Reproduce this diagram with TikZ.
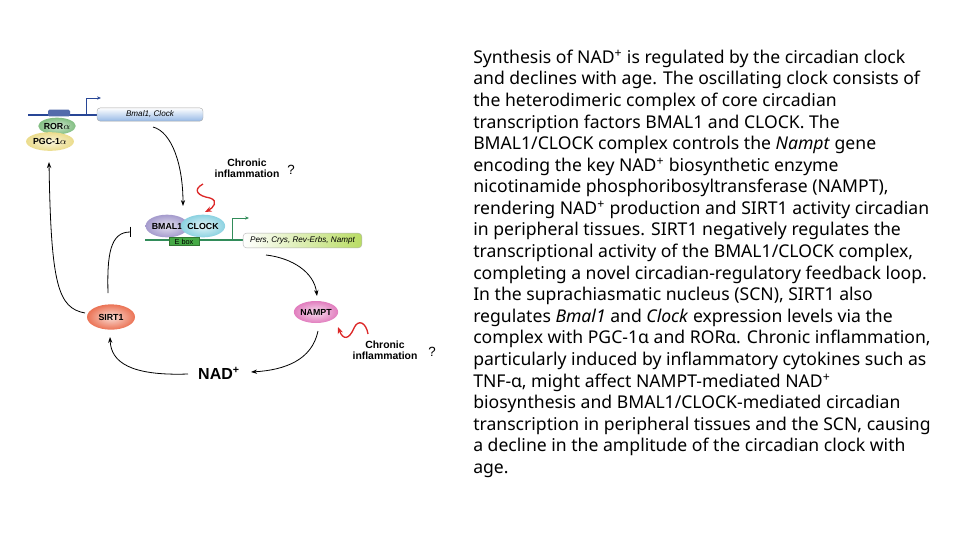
\documentclass[tikz,border=0pt]{standalone}
\usepackage{fontspec}
\setmainfont{Noto Sans}
\newfontfamily\lab{Liberation Sans}
\usetikzlibrary{arrows.meta,shapes.geometric}
\definecolor{dnablue}{RGB}{40,70,150}
\definecolor{dnagreen}{RGB}{50,140,90}
\definecolor{eboxc}{RGB}{70,170,70}
\definecolor{redsq}{RGB}{220,40,40}
\definecolor{rorc}{RGB}{130,190,130}
\definecolor{pgcc}{RGB}{235,220,140}
\definecolor{bmalc}{RGB}{165,155,205}
\definecolor{clockc}{RGB}{140,210,225}
\definecolor{sirtc}{RGB}{235,115,85}
\definecolor{namptc}{RGB}{225,125,190}
\definecolor{genebl}{RGB}{150,185,230}
\definecolor{genegr}{RGB}{185,220,100}
\begin{document}
\begin{tikzpicture}[x=0.75pt,y=-0.75pt,
  lbl/.style={font=\lab\bfseries\fontsize{6.6}{7}\selectfont, inner sep=0},
  infl/.style={font=\lab\bfseries\fontsize{7.8}{8.2}\selectfont, align=center, inner sep=0},
  qm/.style={font=\lab\fontsize{10}{10}\selectfont, inner sep=0},
  ell/.style={ellipse, inner sep=0, lbl},
  gene/.style={rounded corners=2.5pt, inner sep=0, draw=gray!70, line width=0.3pt, font=\lab\itshape\fontsize{6.1}{7}\selectfont},
  arr/.style={-{Stealth[length=4.5pt,width=3.2pt]}, line width=0.6pt, black},
  rarr/.style={-{Stealth[length=5pt,width=4pt]}, line width=1pt, redsq},
  txt/.style={anchor=base west, inner sep=0, font=\fontsize{13.2}{16}\selectfont}]
\useasboundingbox (0,0) rectangle (960,540);

% ---------- top DNA (blue) ----------
\coordinate (bl0) at (28,115);
\coordinate (bl1) at (97,115);
\draw[dnablue, line width=1.2pt] (bl0) -- (bl1);
\node[fill=dnablue!80, rounded corners=1pt, inner sep=0, minimum width=16.5pt, minimum height=5pt] (bbox) at (59,113) {};
\coordinate (bp0) at (86,115);
\coordinate (bp1) at (86,98);
\coordinate (bp2) at (101,98);
\draw[dnablue, line width=0.7pt, -{Stealth[length=3pt,width=2.5pt]}] (bp0) -- (bp1) -- (bp2);
\node[gene, top color=white, bottom color=genebl, minimum width=79.5pt, minimum height=10pt] (bgene) at (150,114.5) {Bmal1, Clock};

\node[ell, inner color=rorc!35!white, outer color=rorc, minimum width=19pt, minimum height=12.5pt] (ror) at (57,126) {ROR$\alpha$};
\node[ell, inner color=pgcc!30!white, outer color=pgcc, minimum width=25.5pt, minimum height=14pt] (pgc) at (50,141.5) {PGC-1$\alpha$};

% ---------- middle DNA (green) ----------
\coordinate (g0) at (145,240);
\coordinate (g1) at (243,240);
\draw[dnagreen, line width=1.3pt] (g0) -- (g1);
\coordinate (gp0) at (232,240);
\coordinate (gp1) at (232,218);
\coordinate (gp2) at (249,218);
\draw[dnagreen, line width=0.7pt, -{Stealth[length=3pt,width=2.5pt]}] (gp0) -- (gp1) -- (gp2);
\node[gene, draw=gray!60, left color=white, right color=genegr, minimum width=89pt, minimum height=11pt] (pgene) at (302.5,240.5) {Pers, Crys, Rev-Erbs, Nampt};

\node[ell, inner color=bmalc!30!white, outer color=bmalc, minimum width=29pt, minimum height=17pt] (bmal) at (167,226) {BMAL1};
\node[ell, inner color=clockc!25!white, outer color=clockc, minimum width=30pt, minimum height=17pt] (clock) at (203,226) {CLOCK};
\node[fill=eboxc, draw=eboxc!70!black, line width=0.2pt, inner sep=0, minimum width=23pt, minimum height=6pt, font=\lab\fontsize{5.5}{6}\selectfont] (ebox) at (184,241.5) {E box};

% ---------- other nodes ----------
\node[ell, inner color=sirtc!25!white, outer color=sirtc, minimum width=36pt, minimum height=19pt] (sirt) at (111,317) {SIRT1};
\node[ell, inner color=namptc!25!white, outer color=namptc, minimum width=31.5pt, minimum height=16.5pt] (nampt) at (316,312) {NAMPT};
\node[font=\lab\bfseries\fontsize{12}{12}\selectfont, inner sep=0] (nad) at (219,373) {NAD\textsuperscript{+}};

\node[infl] (inf1) at (247,168.5) {Chronic\\inflammation};
\node[qm] (q1) at (291,170) {?};
\node[infl] (inf2) at (385,350) {Chronic\\inflammation};
\node[qm] (q2) at (432,352) {?};

% ---------- connectors ----------
\coordinate (c1a) at (153,127);
\coordinate (c1b) at (183,206);
\draw[arr] (c1a) .. controls (172,132) and (183,165) .. (c1b);

\coordinate (c2a) at (85,313);
\coordinate (c2b) at (49,162);
\draw[arr] (c2a) .. controls (58,308) and (51,285) .. (c2b);

\coordinate (c3a) at (108,293);
\coordinate (c3b) at (131,232);
\draw[line width=0.6pt, -{Bar[width=8pt,line width=0.9pt]}] (c3a) .. controls (107,255) and (110,232) .. (c3b);

\coordinate (c4a) at (266,255);
\coordinate (c4b) at (317,296);
\draw[arr] (c4a) .. controls (292,258) and (314,272) .. (c4b);

\coordinate (c5a) at (318,331);
\coordinate (c5b) at (251,372);
\draw[arr] (c5a) .. controls (312,360) and (285,370) .. (c5b);

\coordinate (c6a) at (188,374);
\coordinate (c6b) at (110,337);
\draw[arr] (c6a) .. controls (130,376) and (111,362) .. (c6b);

% red squiggles
\coordinate (r1a) at (203,184);
\coordinate (r1b) at (205,212);
\draw[rarr] (r1a) .. controls (192,190) and (198,196) .. (210,198) .. controls (219,201) and (213,208) .. (r1b);
\coordinate (r2a) at (368,334);
\coordinate (r2b) at (338,327);
\draw[rarr] (r2a) .. controls (366,322) and (358,319) .. (354,328) .. controls (349,340) and (343,340) .. (r2b);

% ---------- text ----------
\node[txt] (t1) at (473,63.3) {Synthesis of NAD\textsuperscript{+} is regulated by the circadian clock};
\node[txt] (t2) at (473,84.9) {and declines with age. The oscillating clock consists of};
\node[txt] (t3) at (473,106.5) {the heterodimeric complex of core circadian};
\node[txt] (t4) at (473,128.0) {transcription factors BMAL1 and CLOCK. The};
\node[txt] (t5) at (473,149.6) {BMAL1/CLOCK complex controls the \textit{Nampt} gene};
\node[txt] (t6) at (473,171.2) {encoding the key NAD\textsuperscript{+} biosynthetic enzyme};
\node[txt] (t7) at (473,192.8) {nicotinamide phosphoribosyltransferase (NAMPT),};
\node[txt] (t8) at (473,214.4) {rendering NAD\textsuperscript{+} production and SIRT1 activity circadian};
\node[txt] (t9) at (473,235.9) {in peripheral tissues. SIRT1 negatively regulates the};
\node[txt] (t10) at (473,257.5) {transcriptional activity of the BMAL1/CLOCK complex,};
\node[txt] (t11) at (473,279.1) {completing a novel circadian-regulatory feedback loop.};
\node[txt] (t12) at (473,300.7) {In the suprachiasmatic nucleus (SCN), SIRT1 also};
\node[txt] (t13) at (473,322.2) {regulates \textit{Bmal1} and \textit{Clock} expression levels via the};
\node[txt] (t14) at (473,343.8) {complex with PGC-1α and RORα. Chronic inflammation,};
\node[txt] (t15) at (473,365.4) {particularly induced by inflammatory cytokines such as};
\node[txt] (t16) at (473,387.0) {TNF-α, might affect NAMPT-mediated NAD\textsuperscript{+}};
\node[txt] (t17) at (473,408.5) {biosynthesis and BMAL1/CLOCK-mediated circadian};
\node[txt] (t18) at (473,430.1) {transcription in peripheral tissues and the SCN, causing};
\node[txt] (t19) at (473,451.7) {a decline in the amplitude of the circadian clock with};
\node[txt] (t20) at (473,473.3) {age.};
\end{tikzpicture}
\end{document}
